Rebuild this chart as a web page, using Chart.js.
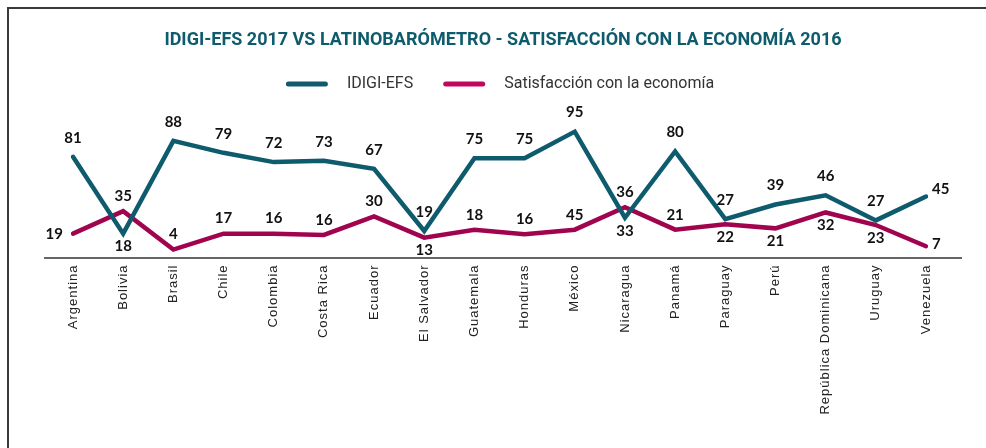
<!DOCTYPE html>
<html>
<head>
<meta charset="utf-8">
<script src="https://cdn.jsdelivr.net/npm/chart.js@4"></script>
<style>
  html, body { margin: 0; padding: 0; background: #fff; }
  #wrap { position: relative; width: 986px; height: 448px; }
  #frame { position: absolute; left: 7px; top: 7px; right: 0; bottom: 0;
           border-top: 2px solid #3a3a3a; border-left: 2px solid #3a3a3a; pointer-events: none; }
</style>
</head>
<body>
<div id="wrap">
  <canvas id="chart" width="986" height="448"></canvas>
  <div id="frame"></div>
</div>
<script>
const countries = ['Argentina', 'Bolivia', 'Brasil', 'Chile', 'Colombia', 'Costa Rica', 'Ecuador',
  'El Salvador', 'Guatemala', 'Honduras', 'México', 'Nicaragua', 'Panamá', 'Paraguay', 'Perú',
  'República Dominicana', 'Uruguay', 'Venezuela'];

// plotted positions
const idigiValues = [76, 18, 88, 79, 72, 73, 67, 20, 75, 75, 95, 30, 80, 29, 40, 47, 28, 46];
const satValues = [18, 35, 6, 18, 18, 17, 31, 15, 21, 17.5, 21, 38, 21, 25, 22, 34, 24.5, 8.5];

// numbers printed next to the points
const idigiLabels = ['81', '18', '88', '79', '72', '73', '67', '19', '75', '75', '95', '33', '80', '27', '39', '46', '27', '45'];
const satLabels = ['19', '35', '4', '17', '16', '16', '30', '13', '18', '16', '45', '36', '21', '22', '21', '32', '23', '7'];

const chartTitle = 'IDIGI-EFS 2017 VS LATINOBARÓMETRO - SATISFACCIÓN CON LA ECONOMÍA 2016';

const TEAL = '#0e5b6d';
const WINE = '#a1044f';
const WINE_LEGEND = '#c3065f';

// where each value label sits: a = above, b = below, l = left, r = right
const idigiPlace = ['a', 'b', 'a', 'a', 'a', 'a', 'a', 'a', 'a', 'a', 'a', 'b', 'a', 'a', 'a', 'a', 'a', 'r'];
const satPlace = ['l', 'a', 'a', 'a', 'a', 'a', 'a', 'b', 'a', 'a', 'a', 'a', 'a', 'b', 'b', 'b', 'b', 'r'];

const decor = {
    id: 'decor',
    beforeDraw(chart) {
        // spaced-out country names, and no clipping of the longer text
        const x = chart.scales.x;
        if (x && !x._spaced) {
            const orig = x.drawLabels;
            x._computeLabelArea = () => undefined;
            x.drawLabels = function (area) {
                const c = this.ctx;
                c.save();
                c.letterSpacing = '1px';
                orig.call(this, area);
                c.restore();
            };
            x._spaced = true;
        }
    },
    afterDatasetsDraw(chart) {
        const ctx = chart.ctx;
        const area = chart.chartArea;

        // baseline
        ctx.save();
        ctx.strokeStyle = '#333';
        ctx.lineWidth = 1.5;
        ctx.beginPath();
        ctx.moveTo(area.left - 29, area.bottom + 0.5);
        ctx.lineTo(area.right + 36, area.bottom + 0.5);
        ctx.stroke();

        // value labels
        ctx.font = 'bold 15px Lato';
        ctx.fillStyle = '#111';
        const sets = [[idigiLabels, idigiPlace, -19], [satLabels, satPlace, -15]];
        sets.forEach(([labels, place, up], di) => {
            const meta = chart.getDatasetMeta(di);
            meta.data.forEach((pt, i) => {
                let dx = 0, dy = up;
                ctx.textAlign = 'center';
                if (place[i] === 'b') dy = 13;
                if (place[i] === 'l') { dx = -10; dy = 1; ctx.textAlign = 'right'; }
                if (place[i] === 'r') { dx = 6; dy = di === 0 ? -7 : -2; ctx.textAlign = 'left'; }
                ctx.textBaseline = 'middle';
                ctx.fillText(labels[i], pt.x + dx, pt.y + dy);
            });
        });
        ctx.restore();
    },
    afterDraw(chart) {
        const ctx = chart.ctx;
        ctx.save();
        // title
        ctx.font = 'bold 18px Roboto';
        ctx.fillStyle = TEAL;
        ctx.textAlign = 'center';
        ctx.textBaseline = 'middle';
        ctx.fillText(chartTitle, 503, 40);

        // legend
        ctx.font = '16px Roboto';
        const names = chart.data.datasets.map(d => d.label);
        const colors = [TEAL, WINE_LEGEND];
        const sw = 42, gapIn = 19, gapOut = 30;
        const widths = names.map(n => ctx.measureText(n).width);
        const total = sw * 2 + gapIn * 2 + gapOut + widths[0] + widths[1];
        let lx = 500 - total / 2;
        const ly = 84;
        ctx.textAlign = 'left';
        ctx.lineCap = 'round';
        ctx.lineWidth = 5;
        names.forEach((n, i) => {
            ctx.strokeStyle = colors[i];
            ctx.beginPath();
            ctx.moveTo(lx + 2.5, ly);
            ctx.lineTo(lx + sw - 2.5, ly);
            ctx.stroke();
            lx += sw + gapIn;
            ctx.fillStyle = '#333';
            ctx.fillText(n, lx, ly);
            lx += widths[i] + gapOut;
        });
        ctx.restore();
    }
};

new Chart(document.getElementById('chart'), {
    type: 'line',
    data: {
        labels: countries,
        datasets: [
            {
                label: 'IDIGI-EFS',
                data: idigiValues,
                borderColor: TEAL,
                borderWidth: 4.5,
                pointRadius: 0,
                tension: 0,
                borderCapStyle: 'round',
                borderJoinStyle: 'miter',
                fill: false,
            },
            {
                label: 'Satisfacción con la economía',
                data: satValues,
                borderColor: WINE,
                borderWidth: 4.5,
                pointRadius: 0,
                tension: 0,
                borderCapStyle: 'round',
                borderJoinStyle: 'miter',
                fill: false,
            },
        ],
    },
    options: {
        responsive: false,
        animation: false,
        layout: { padding: { left: 73, right: 60, top: 125, bottom: 58 } },
        plugins: {
            legend: { display: false },
            title: { display: false },
            tooltip: { enabled: false },
        },
        scales: {
            x: {
                offset: false,
                grid: { display: false, drawTicks: false },
                border: { display: false },
                ticks: {
                    autoSkip: false,
                    maxRotation: 90,
                    minRotation: 90,
                    padding: 7,
                    color: '#222',
                    font: { family: 'Liberation Sans', size: 13 },
                },
            },
            y: {
                display: false,
                min: 0,
                max: 100,
            },
        },
    },
    plugins: [decor],
});
</script>
</body>
</html>
